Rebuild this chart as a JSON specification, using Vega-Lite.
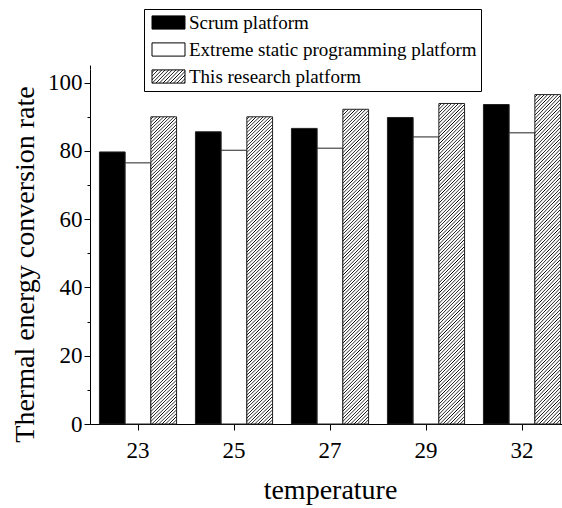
{
"$schema": "https://vega.github.io/schema/vega-lite/v6.json",
"autosize": {"type": "none"},
"padding": {"left": 90, "top": 69, "right": 0, "bottom": 84},
"width": 472,
"height": 355,
"background": "#ffffff",
"config": {"view": {"stroke": null}, "font": "Liberation Serif"},
"params": [{"name": "hatchL", "value": {"gradient": "linear", "x1": 0, "y1": 0, "x2": 1.207, "y2": 0.4755, "stops": [
{"offset":0,"color":"#fff"},{"offset":0.0385,"color":"#fff"},{"offset":0.0577,"color":"#000"},
{"offset":0.0769,"color":"#fff"},{"offset":0.1154,"color":"#fff"},{"offset":0.1346,"color":"#000"},
{"offset":0.1538,"color":"#fff"},{"offset":0.1923,"color":"#fff"},{"offset":0.2115,"color":"#000"},
{"offset":0.2308,"color":"#fff"},{"offset":0.2692,"color":"#fff"},{"offset":0.2885,"color":"#000"},
{"offset":0.3077,"color":"#fff"},{"offset":0.3462,"color":"#fff"},{"offset":0.3654,"color":"#000"},
{"offset":0.3846,"color":"#fff"},{"offset":0.4231,"color":"#fff"},{"offset":0.4423,"color":"#000"},
{"offset":0.4615,"color":"#fff"},{"offset":0.5,"color":"#fff"},{"offset":0.5192,"color":"#000"},
{"offset":0.5385,"color":"#fff"},{"offset":0.5769,"color":"#fff"},{"offset":0.5962,"color":"#000"},
{"offset":0.6154,"color":"#fff"},{"offset":0.6538,"color":"#fff"},{"offset":0.6731,"color":"#000"},
{"offset":0.6923,"color":"#fff"},{"offset":0.7308,"color":"#fff"},{"offset":0.75,"color":"#000"},
{"offset":0.7692,"color":"#fff"},{"offset":0.8077,"color":"#fff"},{"offset":0.8269,"color":"#000"},
{"offset":0.8462,"color":"#fff"},{"offset":0.8846,"color":"#fff"},{"offset":0.9038,"color":"#000"},
{"offset":0.9231,"color":"#fff"},{"offset":0.9615,"color":"#fff"},{"offset":0.9808,"color":"#000"},
{"offset":1,"color":"#fff"}
]}}],
"data": {"values": [
{"temperature": "23", "platform": "Scrum platform", "value": 79.7},
{"temperature": "23", "platform": "Extreme static programming platform", "value": 76.5},
{"temperature": "23", "platform": "This research platform", "value": 90.0},
{"temperature": "25", "platform": "Scrum platform", "value": 85.6},
{"temperature": "25", "platform": "Extreme static programming platform", "value": 80.2},
{"temperature": "25", "platform": "This research platform", "value": 90.0},
{"temperature": "27", "platform": "Scrum platform", "value": 86.6},
{"temperature": "27", "platform": "Extreme static programming platform", "value": 80.8},
{"temperature": "27", "platform": "This research platform", "value": 92.2},
{"temperature": "29", "platform": "Scrum platform", "value": 89.8},
{"temperature": "29", "platform": "Extreme static programming platform", "value": 84.1},
{"temperature": "29", "platform": "This research platform", "value": 93.9},
{"temperature": "32", "platform": "Scrum platform", "value": 93.6},
{"temperature": "32", "platform": "Extreme static programming platform", "value": 85.3},
{"temperature": "32", "platform": "This research platform", "value": 96.5}
]},
"resolve": {"axis": {"x": "independent"}},
"layer": [
{
"mark": {"type": "bar", "stroke": "#222222", "strokeWidth": 1},
"encoding": {
"x": {"field": "temperature", "type": "ordinal",
 "scale": {"range": [0, 480], "paddingInner": 0, "paddingOuter": 0},
 "axis": {"title": "temperature", "labelAngle": 0, "labelFont": "Liberation Serif", "labelFontSize": 23, "labelColor": "#000", "labelBaseline": "alphabetic", "labelPadding": 27, "tickSize": 6, "tickColor": "#000", "domainColor": "#000", "grid": false, "titleFont": "Liberation Serif", "titleFontSize": 28, "titleFontWeight": "normal", "titleColor": "#000", "titleBaseline": "alphabetic", "titleY": 74}},
"xOffset": {"field": "platform", "type": "nominal", "sort": ["Scrum platform", "Extreme static programming platform", "This research platform"],
 "scale": {"paddingOuter": 0.367, "paddingInner": 0}},
"y": {"field": "value", "type": "quantitative",
 "scale": {"domain": [0, 104], "nice": false},
 "axis": {"title": "Thermal energy conversion rate", "values": [0, 10, 20, 30, 40, 50, 60, 70, 80, 90, 100], "labelExpr": "datum.value % 20 === 0 ? datum.label : ''", "labelOverlap": false, "tickSize": {"condition": {"test": "datum.value % 20 === 0", "value": 6}, "value": 3}, "grid": false, "domainColor": "#000", "tickColor": "#000", "labelFont": "Liberation Serif", "labelColor": "#000", "labelFontSize": 23, "labelPadding": 2, "titleFont": "Liberation Serif", "titleFontSize": 28, "titleFontWeight": "normal", "titleColor": "#000", "titleX": -57, "titleY": 195, "titleBaseline": "alphabetic"}},
"fill": {"field": "platform", "type": "nominal",
 "scale": {"domain": ["Scrum platform", "Extreme static programming platform", "This research platform"], "range": ["#000000", "#ffffff", {"expr": "hatchL"}]},
 "legend": {"orient": "none", "legendX": 54, "legendY": -60, "title": null, "direction": "vertical", "strokeColor": "#000", "fillColor": "#fff", "padding": 4, "symbolType": "M-2.5,-1H2.5V1H-2.5Z", "symbolSize": 174, "symbolStrokeColor": "#000", "symbolStrokeWidth": 1, "symbolOffset": 11, "labelFont": "Liberation Serif", "labelFontSize": 19, "labelColor": "#000", "labelOffset": 11, "rowPadding": 7, "labelLimit": 0},
 "condition": {"test": "datum.platform === 'This research platform'", "value": {"gradient": "linear", "x1": 0, "y1": 0, "x2": 0.087, "y2": 1.074, "stops": [
{"offset":0,"color":"#fff"},{"offset":0.005,"color":"#fff"},{"offset":0.0075,"color":"#000"},
{"offset":0.01,"color":"#fff"},{"offset":0.015,"color":"#fff"},{"offset":0.0175,"color":"#000"},
{"offset":0.02,"color":"#fff"},{"offset":0.025,"color":"#fff"},{"offset":0.0275,"color":"#000"},
{"offset":0.03,"color":"#fff"},{"offset":0.035,"color":"#fff"},{"offset":0.0375,"color":"#000"},
{"offset":0.04,"color":"#fff"},{"offset":0.045,"color":"#fff"},{"offset":0.0475,"color":"#000"},
{"offset":0.05,"color":"#fff"},{"offset":0.055,"color":"#fff"},{"offset":0.0575,"color":"#000"},
{"offset":0.06,"color":"#fff"},{"offset":0.065,"color":"#fff"},{"offset":0.0675,"color":"#000"},
{"offset":0.07,"color":"#fff"},{"offset":0.075,"color":"#fff"},{"offset":0.0775,"color":"#000"},
{"offset":0.08,"color":"#fff"},{"offset":0.085,"color":"#fff"},{"offset":0.0875,"color":"#000"},
{"offset":0.09,"color":"#fff"},{"offset":0.095,"color":"#fff"},{"offset":0.0975,"color":"#000"},
{"offset":0.1,"color":"#fff"},{"offset":0.105,"color":"#fff"},{"offset":0.1075,"color":"#000"},
{"offset":0.11,"color":"#fff"},{"offset":0.115,"color":"#fff"},{"offset":0.1175,"color":"#000"},
{"offset":0.12,"color":"#fff"},{"offset":0.125,"color":"#fff"},{"offset":0.1275,"color":"#000"},
{"offset":0.13,"color":"#fff"},{"offset":0.135,"color":"#fff"},{"offset":0.1375,"color":"#000"},
{"offset":0.14,"color":"#fff"},{"offset":0.145,"color":"#fff"},{"offset":0.1475,"color":"#000"},
{"offset":0.15,"color":"#fff"},{"offset":0.155,"color":"#fff"},{"offset":0.1575,"color":"#000"},
{"offset":0.16,"color":"#fff"},{"offset":0.165,"color":"#fff"},{"offset":0.1675,"color":"#000"},
{"offset":0.17,"color":"#fff"},{"offset":0.175,"color":"#fff"},{"offset":0.1775,"color":"#000"},
{"offset":0.18,"color":"#fff"},{"offset":0.185,"color":"#fff"},{"offset":0.1875,"color":"#000"},
{"offset":0.19,"color":"#fff"},{"offset":0.195,"color":"#fff"},{"offset":0.1975,"color":"#000"},
{"offset":0.2,"color":"#fff"},{"offset":0.205,"color":"#fff"},{"offset":0.2075,"color":"#000"},
{"offset":0.21,"color":"#fff"},{"offset":0.215,"color":"#fff"},{"offset":0.2175,"color":"#000"},
{"offset":0.22,"color":"#fff"},{"offset":0.225,"color":"#fff"},{"offset":0.2275,"color":"#000"},
{"offset":0.23,"color":"#fff"},{"offset":0.235,"color":"#fff"},{"offset":0.2375,"color":"#000"},
{"offset":0.24,"color":"#fff"},{"offset":0.245,"color":"#fff"},{"offset":0.2475,"color":"#000"},
{"offset":0.25,"color":"#fff"},{"offset":0.255,"color":"#fff"},{"offset":0.2575,"color":"#000"},
{"offset":0.26,"color":"#fff"},{"offset":0.265,"color":"#fff"},{"offset":0.2675,"color":"#000"},
{"offset":0.27,"color":"#fff"},{"offset":0.275,"color":"#fff"},{"offset":0.2775,"color":"#000"},
{"offset":0.28,"color":"#fff"},{"offset":0.285,"color":"#fff"},{"offset":0.2875,"color":"#000"},
{"offset":0.29,"color":"#fff"},{"offset":0.295,"color":"#fff"},{"offset":0.2975,"color":"#000"},
{"offset":0.3,"color":"#fff"},{"offset":0.305,"color":"#fff"},{"offset":0.3075,"color":"#000"},
{"offset":0.31,"color":"#fff"},{"offset":0.315,"color":"#fff"},{"offset":0.3175,"color":"#000"},
{"offset":0.32,"color":"#fff"},{"offset":0.325,"color":"#fff"},{"offset":0.3275,"color":"#000"},
{"offset":0.33,"color":"#fff"},{"offset":0.335,"color":"#fff"},{"offset":0.3375,"color":"#000"},
{"offset":0.34,"color":"#fff"},{"offset":0.345,"color":"#fff"},{"offset":0.3475,"color":"#000"},
{"offset":0.35,"color":"#fff"},{"offset":0.355,"color":"#fff"},{"offset":0.3575,"color":"#000"},
{"offset":0.36,"color":"#fff"},{"offset":0.365,"color":"#fff"},{"offset":0.3675,"color":"#000"},
{"offset":0.37,"color":"#fff"},{"offset":0.375,"color":"#fff"},{"offset":0.3775,"color":"#000"},
{"offset":0.38,"color":"#fff"},{"offset":0.385,"color":"#fff"},{"offset":0.3875,"color":"#000"},
{"offset":0.39,"color":"#fff"},{"offset":0.395,"color":"#fff"},{"offset":0.3975,"color":"#000"},
{"offset":0.4,"color":"#fff"},{"offset":0.405,"color":"#fff"},{"offset":0.4075,"color":"#000"},
{"offset":0.41,"color":"#fff"},{"offset":0.415,"color":"#fff"},{"offset":0.4175,"color":"#000"},
{"offset":0.42,"color":"#fff"},{"offset":0.425,"color":"#fff"},{"offset":0.4275,"color":"#000"},
{"offset":0.43,"color":"#fff"},{"offset":0.435,"color":"#fff"},{"offset":0.4375,"color":"#000"},
{"offset":0.44,"color":"#fff"},{"offset":0.445,"color":"#fff"},{"offset":0.4475,"color":"#000"},
{"offset":0.45,"color":"#fff"},{"offset":0.455,"color":"#fff"},{"offset":0.4575,"color":"#000"},
{"offset":0.46,"color":"#fff"},{"offset":0.465,"color":"#fff"},{"offset":0.4675,"color":"#000"},
{"offset":0.47,"color":"#fff"},{"offset":0.475,"color":"#fff"},{"offset":0.4775,"color":"#000"},
{"offset":0.48,"color":"#fff"},{"offset":0.485,"color":"#fff"},{"offset":0.4875,"color":"#000"},
{"offset":0.49,"color":"#fff"},{"offset":0.495,"color":"#fff"},{"offset":0.4975,"color":"#000"},
{"offset":0.5,"color":"#fff"},{"offset":0.505,"color":"#fff"},{"offset":0.5075,"color":"#000"},
{"offset":0.51,"color":"#fff"},{"offset":0.515,"color":"#fff"},{"offset":0.5175,"color":"#000"},
{"offset":0.52,"color":"#fff"},{"offset":0.525,"color":"#fff"},{"offset":0.5275,"color":"#000"},
{"offset":0.53,"color":"#fff"},{"offset":0.535,"color":"#fff"},{"offset":0.5375,"color":"#000"},
{"offset":0.54,"color":"#fff"},{"offset":0.545,"color":"#fff"},{"offset":0.5475,"color":"#000"},
{"offset":0.55,"color":"#fff"},{"offset":0.555,"color":"#fff"},{"offset":0.5575,"color":"#000"},
{"offset":0.56,"color":"#fff"},{"offset":0.565,"color":"#fff"},{"offset":0.5675,"color":"#000"},
{"offset":0.57,"color":"#fff"},{"offset":0.575,"color":"#fff"},{"offset":0.5775,"color":"#000"},
{"offset":0.58,"color":"#fff"},{"offset":0.585,"color":"#fff"},{"offset":0.5875,"color":"#000"},
{"offset":0.59,"color":"#fff"},{"offset":0.595,"color":"#fff"},{"offset":0.5975,"color":"#000"},
{"offset":0.6,"color":"#fff"},{"offset":0.605,"color":"#fff"},{"offset":0.6075,"color":"#000"},
{"offset":0.61,"color":"#fff"},{"offset":0.615,"color":"#fff"},{"offset":0.6175,"color":"#000"},
{"offset":0.62,"color":"#fff"},{"offset":0.625,"color":"#fff"},{"offset":0.6275,"color":"#000"},
{"offset":0.63,"color":"#fff"},{"offset":0.635,"color":"#fff"},{"offset":0.6375,"color":"#000"},
{"offset":0.64,"color":"#fff"},{"offset":0.645,"color":"#fff"},{"offset":0.6475,"color":"#000"},
{"offset":0.65,"color":"#fff"},{"offset":0.655,"color":"#fff"},{"offset":0.6575,"color":"#000"},
{"offset":0.66,"color":"#fff"},{"offset":0.665,"color":"#fff"},{"offset":0.6675,"color":"#000"},
{"offset":0.67,"color":"#fff"},{"offset":0.675,"color":"#fff"},{"offset":0.6775,"color":"#000"},
{"offset":0.68,"color":"#fff"},{"offset":0.685,"color":"#fff"},{"offset":0.6875,"color":"#000"},
{"offset":0.69,"color":"#fff"},{"offset":0.695,"color":"#fff"},{"offset":0.6975,"color":"#000"},
{"offset":0.7,"color":"#fff"},{"offset":0.705,"color":"#fff"},{"offset":0.7075,"color":"#000"},
{"offset":0.71,"color":"#fff"},{"offset":0.715,"color":"#fff"},{"offset":0.7175,"color":"#000"},
{"offset":0.72,"color":"#fff"},{"offset":0.725,"color":"#fff"},{"offset":0.7275,"color":"#000"},
{"offset":0.73,"color":"#fff"},{"offset":0.735,"color":"#fff"},{"offset":0.7375,"color":"#000"},
{"offset":0.74,"color":"#fff"},{"offset":0.745,"color":"#fff"},{"offset":0.7475,"color":"#000"},
{"offset":0.75,"color":"#fff"},{"offset":0.755,"color":"#fff"},{"offset":0.7575,"color":"#000"},
{"offset":0.76,"color":"#fff"},{"offset":0.765,"color":"#fff"},{"offset":0.7675,"color":"#000"},
{"offset":0.77,"color":"#fff"},{"offset":0.775,"color":"#fff"},{"offset":0.7775,"color":"#000"},
{"offset":0.78,"color":"#fff"},{"offset":0.785,"color":"#fff"},{"offset":0.7875,"color":"#000"},
{"offset":0.79,"color":"#fff"},{"offset":0.795,"color":"#fff"},{"offset":0.7975,"color":"#000"},
{"offset":0.8,"color":"#fff"},{"offset":0.805,"color":"#fff"},{"offset":0.8075,"color":"#000"},
{"offset":0.81,"color":"#fff"},{"offset":0.815,"color":"#fff"},{"offset":0.8175,"color":"#000"},
{"offset":0.82,"color":"#fff"},{"offset":0.825,"color":"#fff"},{"offset":0.8275,"color":"#000"},
{"offset":0.83,"color":"#fff"},{"offset":0.835,"color":"#fff"},{"offset":0.8375,"color":"#000"},
{"offset":0.84,"color":"#fff"},{"offset":0.845,"color":"#fff"},{"offset":0.8475,"color":"#000"},
{"offset":0.85,"color":"#fff"},{"offset":0.855,"color":"#fff"},{"offset":0.8575,"color":"#000"},
{"offset":0.86,"color":"#fff"},{"offset":0.865,"color":"#fff"},{"offset":0.8675,"color":"#000"},
{"offset":0.87,"color":"#fff"},{"offset":0.875,"color":"#fff"},{"offset":0.8775,"color":"#000"},
{"offset":0.88,"color":"#fff"},{"offset":0.885,"color":"#fff"},{"offset":0.8875,"color":"#000"},
{"offset":0.89,"color":"#fff"},{"offset":0.895,"color":"#fff"},{"offset":0.8975,"color":"#000"},
{"offset":0.9,"color":"#fff"},{"offset":0.905,"color":"#fff"},{"offset":0.9075,"color":"#000"},
{"offset":0.91,"color":"#fff"},{"offset":0.915,"color":"#fff"},{"offset":0.9175,"color":"#000"},
{"offset":0.92,"color":"#fff"},{"offset":0.925,"color":"#fff"},{"offset":0.9275,"color":"#000"},
{"offset":0.93,"color":"#fff"},{"offset":0.935,"color":"#fff"},{"offset":0.9375,"color":"#000"},
{"offset":0.94,"color":"#fff"},{"offset":0.945,"color":"#fff"},{"offset":0.9475,"color":"#000"},
{"offset":0.95,"color":"#fff"},{"offset":0.955,"color":"#fff"},{"offset":0.9575,"color":"#000"},
{"offset":0.96,"color":"#fff"},{"offset":0.965,"color":"#fff"},{"offset":0.9675,"color":"#000"},
{"offset":0.97,"color":"#fff"},{"offset":0.975,"color":"#fff"},{"offset":0.9775,"color":"#000"},
{"offset":0.98,"color":"#fff"},{"offset":0.985,"color":"#fff"},{"offset":0.9875,"color":"#000"},
{"offset":0.99,"color":"#fff"},{"offset":0.995,"color":"#fff"},{"offset":0.9975,"color":"#000"},
{"offset":1,"color":"#fff"}
 ]}}
}
}
},
{
"mark": {"type": "rule", "opacity": 0},
"encoding": {
"x": {"field": "temperature", "type": "ordinal",
 "axis": {"tickBand": "extent", "labels": false, "domain": false, "title": null, "tickSize": 4, "tickColor": "#000", "grid": false}}
}
}
]
}
